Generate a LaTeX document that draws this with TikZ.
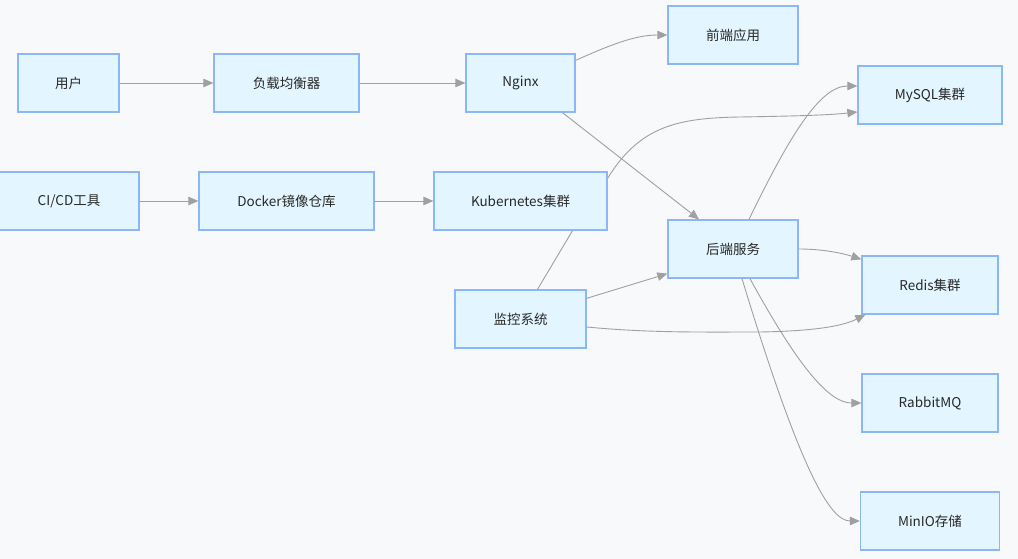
\documentclass[tikz,border=0pt]{standalone}
\usepackage{fontspec}
\setmainfont{Noto Sans CJK SC}
\usetikzlibrary{arrows.meta,calc}
\definecolor{bg}{RGB}{248,249,251}
\definecolor{boxfill}{RGB}{227,245,254}
\definecolor{boxline}{RGB}{140,182,250}
\definecolor{edge}{RGB}{160,160,160}
\definecolor{txt}{RGB}{40,40,40}
\begin{document}
\begin{tikzpicture}[x=1pt,y=-1pt,
  box/.style={draw=boxline,fill=boxfill,line width=1.3pt,minimum height=58pt,inner sep=0pt,
    font=\fontsize{13.5}{16}\selectfont,text=txt},
  conn/.style={draw=edge,line width=0.9pt,-{Triangle[length=10pt,width=8.5pt]}},
  link/.style={draw=edge,line width=0.9pt}]
\useasboundingbox[fill=bg] (0,0) rectangle (1018,559);

\node[box,minimum width=101pt] (user) at (68.5,83) {用户};
\node[box,minimum width=145pt] (lb) at (286.5,83) {负载均衡器};
\node[box,minimum width=109pt] (nginx) at (520.5,83) {Nginx};
\node[box,minimum width=130pt] (fe) at (733,35) {前端应用};
\node[box,minimum width=144pt] (mysql) at (930,95) {MySQL集群};
\node[box,minimum width=140pt] (cicd) at (69,201) {CI/CD工具};
\node[box,minimum width=175pt] (docker) at (286.5,201) {Docker镜像仓库};
\node[box,minimum width=173pt] (k8s) at (520.5,201) {Kubernetes集群};
\node[box,minimum width=130pt] (be) at (733,249) {后端服务};
\node[box,minimum width=136pt] (redis) at (930,285) {Redis集群};
\node[box,minimum width=131pt] (mon) at (520.5,319) {监控系统};
\node[box,minimum width=136pt] (rabbit) at (930,403) {RabbitMQ};
\node[box,minimum width=139pt] (minio) at (930,521) {MinIO存储};

\draw[conn] (user) -- (lb);
\draw[conn] (lb) -- (nginx);
\draw[conn] (cicd) -- (docker);
\draw[conn] (docker) -- (k8s);
\draw[conn] ($(nginx.north east)+(0,7)$) .. controls (610,45) and (635,35) .. (fe.west);
\draw[conn] ($(nginx.south)+(42,0)$) -- ($(be.north)+(-34,0)$);
\draw[conn] ($(k8s.north east)+(0,7)$) .. controls (640,125) and (680,118) .. (740,117)
  .. controls (800,116) and (830,115) .. ($(mysql.west)+(0,17)$);
\draw[conn] ($(be.north)+(16,0)$) .. controls (790,135) and (820,86) .. ($(mysql.west)+(0,-9)$);
\draw[conn] (be.east) .. controls (825,249) and (845,254) .. ($(redis.north west)+(0,4)$);
\draw[conn] ($(mon.north east)+(0,9)$) -- ($(be.south west)+(0,-5)$);
\draw[conn] ($(mon.east)+(0,8)$) .. controls (650,333) and (700,332) .. (760,332)
  .. controls (820,331) and (845,325) .. ($(redis.south west)+(4,0)$);
\draw[link] ($(mon.north)+(17,0)$) -- ($(k8s.south)+(52,0)$);
\draw[conn] ($(be.south)+(17,0)$) .. controls (800,370) and (830,403) .. (rabbit.west);
\draw[conn] ($(be.south)+(9,0)$) .. controls (800,470) and (830,521) .. (minio.west);
\end{tikzpicture}
\end{document}
